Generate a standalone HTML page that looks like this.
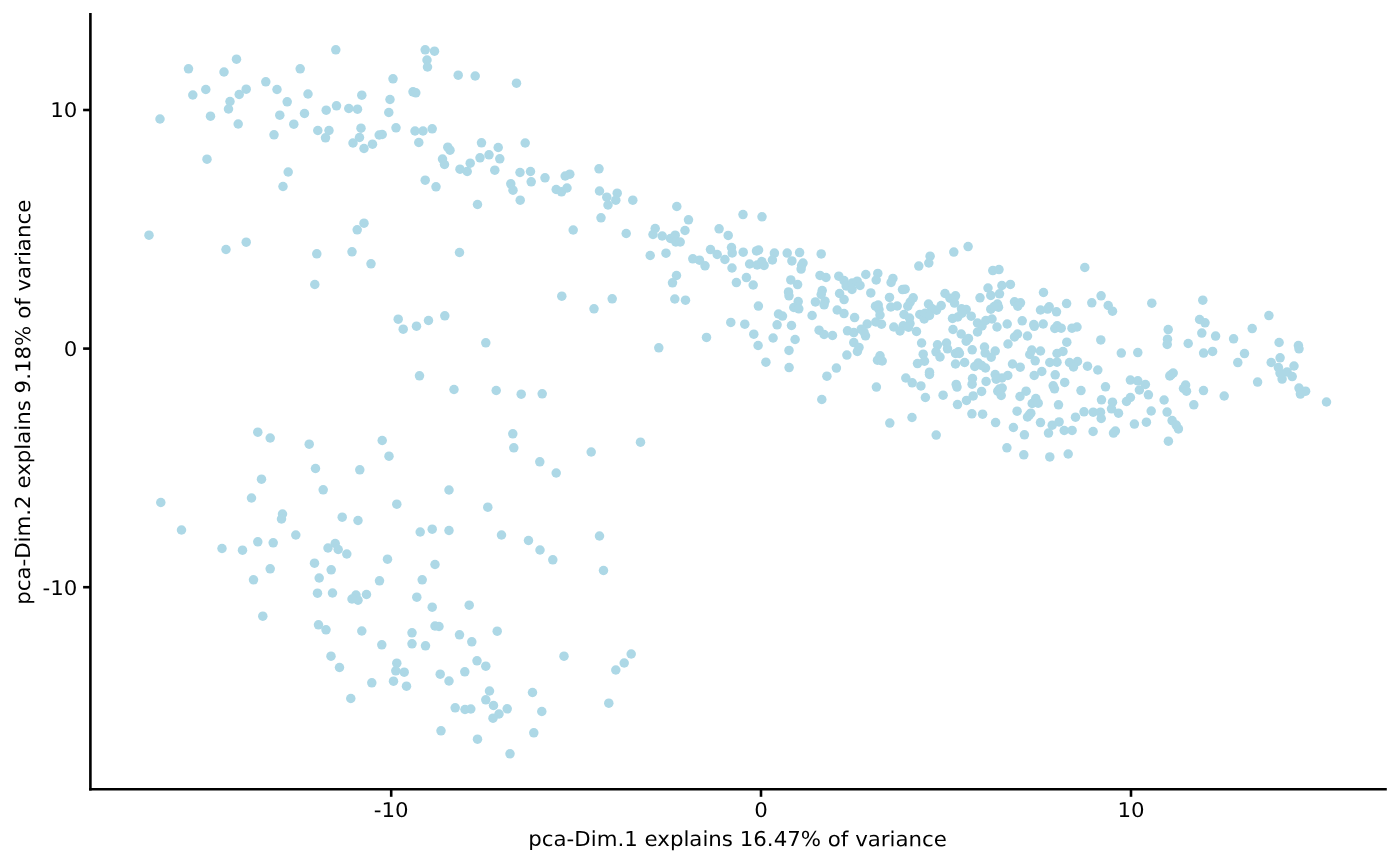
<!DOCTYPE html>
<html><head><meta charset="utf-8"><title>PCA plot</title>
<style>html,body{margin:0;padding:0;background:#fff}svg{display:block}</style></head>
<body><svg width="1400" height="866" viewBox="0 0 1400 866">
<rect width="1400" height="866" fill="#fff"/>
<g fill="#ADD8E6"><circle cx="160.0" cy="119.0" r="4.75"/><circle cx="188.5" cy="68.8" r="4.75"/><circle cx="192.8" cy="95.0" r="4.75"/><circle cx="205.8" cy="89.5" r="4.75"/><circle cx="210.5" cy="116.2" r="4.75"/><circle cx="207.0" cy="159.2" r="4.75"/><circle cx="224.0" cy="72.0" r="4.75"/><circle cx="236.5" cy="59.2" r="4.75"/><circle cx="230.0" cy="101.5" r="4.75"/><circle cx="228.5" cy="109.0" r="4.75"/><circle cx="239.2" cy="94.5" r="4.75"/><circle cx="246.2" cy="89.2" r="4.75"/><circle cx="238.2" cy="124.0" r="4.75"/><circle cx="265.8" cy="81.8" r="4.75"/><circle cx="277.0" cy="89.5" r="4.75"/><circle cx="274.0" cy="134.8" r="4.75"/><circle cx="279.8" cy="115.2" r="4.75"/><circle cx="287.2" cy="101.8" r="4.75"/><circle cx="293.8" cy="124.2" r="4.75"/><circle cx="288.2" cy="172.0" r="4.75"/><circle cx="283.0" cy="186.5" r="4.75"/><circle cx="300.2" cy="68.8" r="4.75"/><circle cx="308.0" cy="94.0" r="4.75"/><circle cx="304.5" cy="113.5" r="4.75"/><circle cx="317.8" cy="130.5" r="4.75"/><circle cx="326.2" cy="110.2" r="4.75"/><circle cx="329.0" cy="130.5" r="4.75"/><circle cx="325.5" cy="137.8" r="4.75"/><circle cx="335.8" cy="49.8" r="4.75"/><circle cx="336.5" cy="105.8" r="4.75"/><circle cx="348.8" cy="108.5" r="4.75"/><circle cx="357.5" cy="109.2" r="4.75"/><circle cx="361.8" cy="95.2" r="4.75"/><circle cx="361.0" cy="128.2" r="4.75"/><circle cx="359.5" cy="137.5" r="4.75"/><circle cx="353.0" cy="143.0" r="4.75"/><circle cx="364.0" cy="148.5" r="4.75"/><circle cx="372.5" cy="144.2" r="4.75"/><circle cx="379.2" cy="135.0" r="4.75"/><circle cx="382.2" cy="134.5" r="4.75"/><circle cx="388.8" cy="112.5" r="4.75"/><circle cx="390.0" cy="99.5" r="4.75"/><circle cx="393.0" cy="78.8" r="4.75"/><circle cx="396.0" cy="127.8" r="4.75"/><circle cx="413.0" cy="91.8" r="4.75"/><circle cx="415.8" cy="92.8" r="4.75"/><circle cx="415.0" cy="131.0" r="4.75"/><circle cx="423.0" cy="131.0" r="4.75"/><circle cx="432.2" cy="128.8" r="4.75"/><circle cx="418.8" cy="142.5" r="4.75"/><circle cx="425.2" cy="49.8" r="4.75"/><circle cx="434.5" cy="51.2" r="4.75"/><circle cx="427.0" cy="60.0" r="4.75"/><circle cx="427.5" cy="67.0" r="4.75"/><circle cx="458.2" cy="75.2" r="4.75"/><circle cx="475.2" cy="76.0" r="4.75"/><circle cx="516.5" cy="83.2" r="4.75"/><circle cx="447.8" cy="147.2" r="4.75"/><circle cx="450.0" cy="150.2" r="4.75"/><circle cx="442.5" cy="159.0" r="4.75"/><circle cx="444.5" cy="164.5" r="4.75"/><circle cx="460.0" cy="169.2" r="4.75"/><circle cx="467.2" cy="171.5" r="4.75"/><circle cx="470.2" cy="163.2" r="4.75"/><circle cx="480.0" cy="157.8" r="4.75"/><circle cx="481.5" cy="142.8" r="4.75"/><circle cx="489.0" cy="154.8" r="4.75"/><circle cx="498.2" cy="147.5" r="4.75"/><circle cx="499.8" cy="158.8" r="4.75"/><circle cx="494.8" cy="170.2" r="4.75"/><circle cx="525.2" cy="143.0" r="4.75"/><circle cx="520.0" cy="172.5" r="4.75"/><circle cx="530.5" cy="171.5" r="4.75"/><circle cx="531.2" cy="181.8" r="4.75"/><circle cx="545.0" cy="177.8" r="4.75"/><circle cx="510.8" cy="183.8" r="4.75"/><circle cx="513.0" cy="190.2" r="4.75"/><circle cx="520.2" cy="200.2" r="4.75"/><circle cx="477.5" cy="204.5" r="4.75"/><circle cx="425.2" cy="180.2" r="4.75"/><circle cx="436.0" cy="186.8" r="4.75"/><circle cx="565.2" cy="176.0" r="4.75"/><circle cx="569.8" cy="174.2" r="4.75"/><circle cx="556.2" cy="189.5" r="4.75"/><circle cx="561.5" cy="191.8" r="4.75"/><circle cx="567.0" cy="188.0" r="4.75"/><circle cx="599.0" cy="168.8" r="4.75"/><circle cx="599.5" cy="191.0" r="4.75"/><circle cx="606.8" cy="197.2" r="4.75"/><circle cx="617.2" cy="193.2" r="4.75"/><circle cx="615.8" cy="200.2" r="4.75"/><circle cx="608.0" cy="205.0" r="4.75"/><circle cx="632.8" cy="200.2" r="4.75"/><circle cx="676.8" cy="206.5" r="4.75"/><circle cx="149.0" cy="235.2" r="4.75"/><circle cx="226.0" cy="249.5" r="4.75"/><circle cx="246.2" cy="242.2" r="4.75"/><circle cx="316.8" cy="253.8" r="4.75"/><circle cx="314.8" cy="284.5" r="4.75"/><circle cx="364.0" cy="223.2" r="4.75"/><circle cx="357.2" cy="229.8" r="4.75"/><circle cx="352.0" cy="251.8" r="4.75"/><circle cx="371.0" cy="263.8" r="4.75"/><circle cx="459.5" cy="252.5" r="4.75"/><circle cx="398.2" cy="319.2" r="4.75"/><circle cx="403.2" cy="329.2" r="4.75"/><circle cx="416.5" cy="326.2" r="4.75"/><circle cx="428.5" cy="320.5" r="4.75"/><circle cx="444.8" cy="315.8" r="4.75"/><circle cx="485.8" cy="342.8" r="4.75"/><circle cx="419.5" cy="375.8" r="4.75"/><circle cx="454.0" cy="389.5" r="4.75"/><circle cx="496.2" cy="390.5" r="4.75"/><circle cx="521.2" cy="394.2" r="4.75"/><circle cx="542.2" cy="393.8" r="4.75"/><circle cx="561.8" cy="296.2" r="4.75"/><circle cx="594.0" cy="308.8" r="4.75"/><circle cx="612.2" cy="298.8" r="4.75"/><circle cx="573.2" cy="230.0" r="4.75"/><circle cx="601.0" cy="217.8" r="4.75"/><circle cx="626.2" cy="233.5" r="4.75"/><circle cx="655.2" cy="228.5" r="4.75"/><circle cx="653.0" cy="234.5" r="4.75"/><circle cx="662.2" cy="236.0" r="4.75"/><circle cx="670.5" cy="238.5" r="4.75"/><circle cx="675.2" cy="235.2" r="4.75"/><circle cx="675.8" cy="242.0" r="4.75"/><circle cx="680.2" cy="242.0" r="4.75"/><circle cx="685.0" cy="230.5" r="4.75"/><circle cx="688.5" cy="219.8" r="4.75"/><circle cx="650.2" cy="255.5" r="4.75"/><circle cx="666.0" cy="253.2" r="4.75"/><circle cx="692.8" cy="258.8" r="4.75"/><circle cx="699.5" cy="260.2" r="4.75"/><circle cx="676.5" cy="275.5" r="4.75"/><circle cx="672.5" cy="282.8" r="4.75"/><circle cx="674.8" cy="299.0" r="4.75"/><circle cx="685.5" cy="300.2" r="4.75"/><circle cx="658.8" cy="347.8" r="4.75"/><circle cx="743.0" cy="214.6" r="4.75"/><circle cx="762.0" cy="216.8" r="4.75"/><circle cx="719.1" cy="228.8" r="4.75"/><circle cx="728.2" cy="235.4" r="4.75"/><circle cx="710.5" cy="249.6" r="4.75"/><circle cx="717.2" cy="254.5" r="4.75"/><circle cx="724.9" cy="259.5" r="4.75"/><circle cx="731.5" cy="247.6" r="4.75"/><circle cx="732.2" cy="252.9" r="4.75"/><circle cx="743.2" cy="252.2" r="4.75"/><circle cx="705.0" cy="265.8" r="4.75"/><circle cx="732.0" cy="268.0" r="4.75"/><circle cx="756.5" cy="250.9" r="4.75"/><circle cx="758.6" cy="250.0" r="4.75"/><circle cx="749.6" cy="264.0" r="4.75"/><circle cx="757.2" cy="265.0" r="4.75"/><circle cx="761.8" cy="261.6" r="4.75"/><circle cx="764.1" cy="265.4" r="4.75"/><circle cx="774.4" cy="253.1" r="4.75"/><circle cx="772.4" cy="260.0" r="4.75"/><circle cx="787.2" cy="253.1" r="4.75"/><circle cx="799.6" cy="252.6" r="4.75"/><circle cx="791.9" cy="260.9" r="4.75"/><circle cx="803.0" cy="263.0" r="4.75"/><circle cx="801.6" cy="265.6" r="4.75"/><circle cx="801.1" cy="269.1" r="4.75"/><circle cx="821.2" cy="253.9" r="4.75"/><circle cx="746.4" cy="277.6" r="4.75"/><circle cx="736.4" cy="282.6" r="4.75"/><circle cx="753.2" cy="285.0" r="4.75"/><circle cx="790.8" cy="279.9" r="4.75"/><circle cx="797.6" cy="284.6" r="4.75"/><circle cx="788.5" cy="291.9" r="4.75"/><circle cx="789.0" cy="295.8" r="4.75"/><circle cx="758.4" cy="306.1" r="4.75"/><circle cx="820.0" cy="275.4" r="4.75"/><circle cx="826.0" cy="277.5" r="4.75"/><circle cx="838.8" cy="276.2" r="4.75"/><circle cx="844.0" cy="280.6" r="4.75"/><circle cx="846.2" cy="286.0" r="4.75"/><circle cx="852.2" cy="283.1" r="4.75"/><circle cx="852.0" cy="289.4" r="4.75"/><circle cx="857.2" cy="281.2" r="4.75"/><circle cx="860.0" cy="285.4" r="4.75"/><circle cx="865.8" cy="274.5" r="4.75"/><circle cx="870.8" cy="292.9" r="4.75"/><circle cx="839.6" cy="293.5" r="4.75"/><circle cx="844.1" cy="299.6" r="4.75"/><circle cx="822.2" cy="290.5" r="4.75"/><circle cx="821.2" cy="294.5" r="4.75"/><circle cx="815.4" cy="301.9" r="4.75"/><circle cx="825.0" cy="301.2" r="4.75"/><circle cx="824.1" cy="304.8" r="4.75"/><circle cx="798.2" cy="301.6" r="4.75"/><circle cx="793.8" cy="307.5" r="4.75"/><circle cx="798.8" cy="308.8" r="4.75"/><circle cx="837.2" cy="310.0" r="4.75"/><circle cx="968.1" cy="246.6" r="4.75"/><circle cx="953.8" cy="252.1" r="4.75"/><circle cx="930.1" cy="256.2" r="4.75"/><circle cx="928.8" cy="263.0" r="4.75"/><circle cx="918.8" cy="266.1" r="4.75"/><circle cx="877.8" cy="273.4" r="4.75"/><circle cx="876.2" cy="280.0" r="4.75"/><circle cx="892.9" cy="278.4" r="4.75"/><circle cx="891.1" cy="282.5" r="4.75"/><circle cx="902.5" cy="289.6" r="4.75"/><circle cx="905.1" cy="289.2" r="4.75"/><circle cx="992.8" cy="270.6" r="4.75"/><circle cx="999.0" cy="269.6" r="4.75"/><circle cx="988.0" cy="288.0" r="4.75"/><circle cx="1001.9" cy="285.5" r="4.75"/><circle cx="1010.4" cy="284.4" r="4.75"/><circle cx="889.5" cy="297.4" r="4.75"/><circle cx="890.8" cy="307.0" r="4.75"/><circle cx="897.2" cy="306.0" r="4.75"/><circle cx="913.2" cy="297.8" r="4.75"/><circle cx="910.2" cy="302.0" r="4.75"/><circle cx="907.8" cy="306.2" r="4.75"/><circle cx="878.2" cy="305.0" r="4.75"/><circle cx="875.5" cy="306.2" r="4.75"/><circle cx="879.0" cy="309.5" r="4.75"/><circle cx="880.0" cy="315.0" r="4.75"/><circle cx="875.8" cy="322.0" r="4.75"/><circle cx="881.5" cy="324.2" r="4.75"/><circle cx="867.2" cy="324.0" r="4.75"/><circle cx="904.0" cy="314.5" r="4.75"/><circle cx="909.5" cy="318.0" r="4.75"/><circle cx="910.0" cy="323.5" r="4.75"/><circle cx="893.8" cy="327.0" r="4.75"/><circle cx="903.2" cy="325.8" r="4.75"/><circle cx="900.0" cy="331.0" r="4.75"/><circle cx="908.5" cy="327.2" r="4.75"/><circle cx="916.5" cy="331.5" r="4.75"/><circle cx="928.5" cy="304.0" r="4.75"/><circle cx="941.2" cy="305.6" r="4.75"/><circle cx="936.5" cy="310.2" r="4.75"/><circle cx="931.8" cy="308.5" r="4.75"/><circle cx="919.8" cy="314.5" r="4.75"/><circle cx="924.2" cy="319.0" r="4.75"/><circle cx="925.2" cy="313.2" r="4.75"/><circle cx="929.5" cy="315.5" r="4.75"/><circle cx="945.0" cy="293.5" r="4.75"/><circle cx="955.5" cy="295.8" r="4.75"/><circle cx="950.0" cy="298.2" r="4.75"/><circle cx="954.5" cy="303.1" r="4.75"/><circle cx="961.5" cy="308.8" r="4.75"/><circle cx="966.2" cy="309.5" r="4.75"/><circle cx="952.5" cy="318.5" r="4.75"/><circle cx="957.8" cy="317.0" r="4.75"/><circle cx="962.0" cy="313.2" r="4.75"/><circle cx="971.2" cy="316.2" r="4.75"/><circle cx="980.0" cy="297.8" r="4.75"/><circle cx="953.0" cy="329.5" r="4.75"/><circle cx="961.2" cy="334.0" r="4.75"/><circle cx="977.5" cy="323.0" r="4.75"/><circle cx="982.0" cy="326.0" r="4.75"/><circle cx="977.5" cy="332.0" r="4.75"/><circle cx="990.8" cy="295.4" r="4.75"/><circle cx="999.5" cy="293.8" r="4.75"/><circle cx="997.5" cy="304.0" r="4.75"/><circle cx="998.5" cy="307.2" r="4.75"/><circle cx="990.8" cy="309.2" r="4.75"/><circle cx="994.2" cy="306.5" r="4.75"/><circle cx="1014.5" cy="301.8" r="4.75"/><circle cx="1020.5" cy="302.8" r="4.75"/><circle cx="1017.8" cy="306.2" r="4.75"/><circle cx="1043.5" cy="292.5" r="4.75"/><circle cx="1040.5" cy="310.0" r="4.75"/><circle cx="1022.2" cy="320.8" r="4.75"/><circle cx="1007.2" cy="324.0" r="4.75"/><circle cx="997.0" cy="327.0" r="4.75"/><circle cx="992.0" cy="319.0" r="4.75"/><circle cx="985.8" cy="320.5" r="4.75"/><circle cx="1033.8" cy="324.5" r="4.75"/><circle cx="1043.2" cy="324.0" r="4.75"/><circle cx="1049.2" cy="306.8" r="4.75"/><circle cx="1047.6" cy="309.1" r="4.75"/><circle cx="1056.5" cy="311.8" r="4.75"/><circle cx="1066.6" cy="303.6" r="4.75"/><circle cx="1091.8" cy="302.8" r="4.75"/><circle cx="1101.1" cy="295.8" r="4.75"/><circle cx="1057.2" cy="325.8" r="4.75"/><circle cx="1054.8" cy="328.5" r="4.75"/><circle cx="1061.2" cy="328.2" r="4.75"/><circle cx="1072.0" cy="328.2" r="4.75"/><circle cx="1077.0" cy="327.0" r="4.75"/><circle cx="1108.2" cy="305.5" r="4.75"/><circle cx="1112.5" cy="311.2" r="4.75"/><circle cx="1151.8" cy="303.2" r="4.75"/><circle cx="865.5" cy="335.8" r="4.75"/><circle cx="921.6" cy="343.0" r="4.75"/><circle cx="880.0" cy="355.8" r="4.75"/><circle cx="877.5" cy="360.2" r="4.75"/><circle cx="882.2" cy="361.0" r="4.75"/><circle cx="923.2" cy="354.2" r="4.75"/><circle cx="917.5" cy="363.6" r="4.75"/><circle cx="924.5" cy="361.2" r="4.75"/><circle cx="929.5" cy="372.2" r="4.75"/><circle cx="937.5" cy="344.8" r="4.75"/><circle cx="946.5" cy="343.0" r="4.75"/><circle cx="947.5" cy="348.8" r="4.75"/><circle cx="936.0" cy="351.8" r="4.75"/><circle cx="940.0" cy="357.0" r="4.75"/><circle cx="958.5" cy="351.8" r="4.75"/><circle cx="955.5" cy="353.4" r="4.75"/><circle cx="959.4" cy="353.4" r="4.75"/><circle cx="968.5" cy="338.5" r="4.75"/><circle cx="966.2" cy="341.2" r="4.75"/><circle cx="972.2" cy="349.8" r="4.75"/><circle cx="955.5" cy="364.0" r="4.75"/><circle cx="964.6" cy="362.5" r="4.75"/><circle cx="978.2" cy="363.0" r="4.75"/><circle cx="974.8" cy="366.5" r="4.75"/><circle cx="984.5" cy="347.0" r="4.75"/><circle cx="985.2" cy="353.0" r="4.75"/><circle cx="995.2" cy="351.0" r="4.75"/><circle cx="991.2" cy="357.2" r="4.75"/><circle cx="985.5" cy="368.0" r="4.75"/><circle cx="1008.0" cy="344.0" r="4.75"/><circle cx="1017.5" cy="334.0" r="4.75"/><circle cx="1014.5" cy="337.0" r="4.75"/><circle cx="1027.5" cy="336.0" r="4.75"/><circle cx="1031.8" cy="350.0" r="4.75"/><circle cx="1029.8" cy="354.5" r="4.75"/><circle cx="1040.5" cy="351.0" r="4.75"/><circle cx="1035.2" cy="360.8" r="4.75"/><circle cx="1012.5" cy="364.0" r="4.75"/><circle cx="1020.2" cy="367.2" r="4.75"/><circle cx="995.2" cy="374.5" r="4.75"/><circle cx="1007.8" cy="375.5" r="4.75"/><circle cx="1041.8" cy="371.5" r="4.75"/><circle cx="1034.2" cy="375.5" r="4.75"/><circle cx="1066.8" cy="342.2" r="4.75"/><circle cx="1100.8" cy="339.9" r="4.75"/><circle cx="1057.0" cy="353.5" r="4.75"/><circle cx="1063.0" cy="351.5" r="4.75"/><circle cx="1049.8" cy="362.5" r="4.75"/><circle cx="1057.0" cy="362.2" r="4.75"/><circle cx="1069.5" cy="362.5" r="4.75"/><circle cx="1077.5" cy="361.5" r="4.75"/><circle cx="1073.5" cy="367.0" r="4.75"/><circle cx="1087.5" cy="366.2" r="4.75"/><circle cx="1097.8" cy="370.0" r="4.75"/><circle cx="1055.2" cy="374.8" r="4.75"/><circle cx="1121.3" cy="353.1" r="4.75"/><circle cx="1137.8" cy="352.6" r="4.75"/><circle cx="876.4" cy="387.1" r="4.75"/><circle cx="905.8" cy="378.0" r="4.75"/><circle cx="912.2" cy="382.8" r="4.75"/><circle cx="920.9" cy="385.9" r="4.75"/><circle cx="925.4" cy="397.5" r="4.75"/><circle cx="929.5" cy="374.5" r="4.75"/><circle cx="912.0" cy="417.5" r="4.75"/><circle cx="943.1" cy="395.2" r="4.75"/><circle cx="956.2" cy="384.4" r="4.75"/><circle cx="957.0" cy="387.1" r="4.75"/><circle cx="972.5" cy="378.5" r="4.75"/><circle cx="972.1" cy="384.2" r="4.75"/><circle cx="986.1" cy="381.4" r="4.75"/><circle cx="981.6" cy="391.4" r="4.75"/><circle cx="973.2" cy="395.9" r="4.75"/><circle cx="966.5" cy="400.4" r="4.75"/><circle cx="957.5" cy="404.6" r="4.75"/><circle cx="971.9" cy="413.8" r="4.75"/><circle cx="982.6" cy="414.2" r="4.75"/><circle cx="996.2" cy="379.2" r="4.75"/><circle cx="1002.0" cy="378.0" r="4.75"/><circle cx="1002.2" cy="388.0" r="4.75"/><circle cx="997.8" cy="391.2" r="4.75"/><circle cx="1001.2" cy="395.5" r="4.75"/><circle cx="1026.1" cy="391.2" r="4.75"/><circle cx="1020.0" cy="396.5" r="4.75"/><circle cx="1035.8" cy="398.5" r="4.75"/><circle cx="1032.2" cy="403.5" r="4.75"/><circle cx="1038.2" cy="403.2" r="4.75"/><circle cx="1053.2" cy="385.8" r="4.75"/><circle cx="1054.5" cy="388.8" r="4.75"/><circle cx="1017.1" cy="411.2" r="4.75"/><circle cx="1030.8" cy="413.2" r="4.75"/><circle cx="1027.5" cy="417.0" r="4.75"/><circle cx="1064.7" cy="382.4" r="4.75"/><circle cx="1081.0" cy="390.6" r="4.75"/><circle cx="1105.5" cy="386.8" r="4.75"/><circle cx="1101.5" cy="399.8" r="4.75"/><circle cx="1058.5" cy="404.8" r="4.75"/><circle cx="1084.0" cy="411.8" r="4.75"/><circle cx="1093.2" cy="412.2" r="4.75"/><circle cx="1100.5" cy="412.2" r="4.75"/><circle cx="1075.5" cy="417.2" r="4.75"/><circle cx="1101.2" cy="418.5" r="4.75"/><circle cx="1112.5" cy="402.2" r="4.75"/><circle cx="1111.5" cy="408.8" r="4.75"/><circle cx="706.5" cy="337.4" r="4.75"/><circle cx="730.8" cy="322.4" r="4.75"/><circle cx="744.8" cy="324.2" r="4.75"/><circle cx="753.8" cy="334.2" r="4.75"/><circle cx="758.1" cy="345.5" r="4.75"/><circle cx="765.9" cy="362.2" r="4.75"/><circle cx="773.1" cy="338.0" r="4.75"/><circle cx="777.1" cy="324.8" r="4.75"/><circle cx="778.5" cy="314.0" r="4.75"/><circle cx="782.5" cy="316.1" r="4.75"/><circle cx="791.5" cy="325.5" r="4.75"/><circle cx="795.1" cy="339.5" r="4.75"/><circle cx="789.0" cy="350.4" r="4.75"/><circle cx="789.1" cy="367.6" r="4.75"/><circle cx="812.1" cy="315.5" r="4.75"/><circle cx="819.1" cy="330.2" r="4.75"/><circle cx="824.1" cy="334.5" r="4.75"/><circle cx="832.5" cy="335.5" r="4.75"/><circle cx="844.0" cy="313.6" r="4.75"/><circle cx="854.6" cy="317.6" r="4.75"/><circle cx="847.5" cy="330.8" r="4.75"/><circle cx="853.8" cy="332.6" r="4.75"/><circle cx="861.2" cy="329.2" r="4.75"/><circle cx="864.0" cy="332.0" r="4.75"/><circle cx="853.8" cy="342.6" r="4.75"/><circle cx="859.0" cy="347.4" r="4.75"/><circle cx="857.4" cy="351.5" r="4.75"/><circle cx="846.9" cy="355.1" r="4.75"/><circle cx="836.4" cy="368.1" r="4.75"/><circle cx="826.9" cy="376.2" r="4.75"/><circle cx="821.8" cy="399.5" r="4.75"/><circle cx="1084.8" cy="267.5" r="4.75"/><circle cx="1202.8" cy="300.2" r="4.75"/><circle cx="1199.6" cy="319.5" r="4.75"/><circle cx="1205.0" cy="322.8" r="4.75"/><circle cx="1168.2" cy="329.6" r="4.75"/><circle cx="1167.5" cy="339.2" r="4.75"/><circle cx="1167.2" cy="344.4" r="4.75"/><circle cx="1188.2" cy="343.5" r="4.75"/><circle cx="1201.8" cy="333.1" r="4.75"/><circle cx="1215.6" cy="336.1" r="4.75"/><circle cx="1233.6" cy="338.8" r="4.75"/><circle cx="1252.2" cy="328.6" r="4.75"/><circle cx="1268.9" cy="315.6" r="4.75"/><circle cx="1203.6" cy="353.1" r="4.75"/><circle cx="1212.6" cy="351.4" r="4.75"/><circle cx="1244.5" cy="353.6" r="4.75"/><circle cx="1237.8" cy="362.6" r="4.75"/><circle cx="1279.1" cy="342.5" r="4.75"/><circle cx="1298.4" cy="345.5" r="4.75"/><circle cx="1299.0" cy="348.8" r="4.75"/><circle cx="1280.1" cy="357.8" r="4.75"/><circle cx="1271.2" cy="362.5" r="4.75"/><circle cx="1294.0" cy="366.0" r="4.75"/><circle cx="1278.4" cy="367.5" r="4.75"/><circle cx="1280.0" cy="373.1" r="4.75"/><circle cx="1287.1" cy="371.9" r="4.75"/><circle cx="1292.2" cy="376.6" r="4.75"/><circle cx="1282.1" cy="379.1" r="4.75"/><circle cx="1257.6" cy="382.1" r="4.75"/><circle cx="1173.2" cy="373.0" r="4.75"/><circle cx="1169.8" cy="375.9" r="4.75"/><circle cx="1185.6" cy="385.0" r="4.75"/><circle cx="1183.5" cy="388.5" r="4.75"/><circle cx="1203.5" cy="390.6" r="4.75"/><circle cx="1299.0" cy="388.1" r="4.75"/><circle cx="1305.6" cy="391.2" r="4.75"/><circle cx="1130.4" cy="380.1" r="4.75"/><circle cx="1137.8" cy="380.8" r="4.75"/><circle cx="1145.4" cy="384.5" r="4.75"/><circle cx="1139.4" cy="390.0" r="4.75"/><circle cx="1148.4" cy="394.8" r="4.75"/><circle cx="1130.4" cy="397.5" r="4.75"/><circle cx="1126.5" cy="401.5" r="4.75"/><circle cx="1118.5" cy="413.2" r="4.75"/><circle cx="1164.1" cy="400.0" r="4.75"/><circle cx="1151.2" cy="411.0" r="4.75"/><circle cx="1167.1" cy="412.1" r="4.75"/><circle cx="1134.4" cy="424.1" r="4.75"/><circle cx="1146.4" cy="422.2" r="4.75"/><circle cx="1172.1" cy="420.6" r="4.75"/><circle cx="1176.2" cy="425.1" r="4.75"/><circle cx="1178.4" cy="428.9" r="4.75"/><circle cx="1168.4" cy="441.2" r="4.75"/><circle cx="1115.4" cy="431.0" r="4.75"/><circle cx="1113.5" cy="433.1" r="4.75"/><circle cx="1186.5" cy="391.2" r="4.75"/><circle cx="1193.8" cy="404.8" r="4.75"/><circle cx="1224.2" cy="396.0" r="4.75"/><circle cx="1300.4" cy="394.1" r="4.75"/><circle cx="1326.5" cy="402.0" r="4.75"/><circle cx="889.8" cy="423.1" r="4.75"/><circle cx="936.2" cy="435.1" r="4.75"/><circle cx="995.6" cy="422.6" r="4.75"/><circle cx="1013.4" cy="427.5" r="4.75"/><circle cx="1024.4" cy="434.8" r="4.75"/><circle cx="1006.9" cy="447.8" r="4.75"/><circle cx="1023.8" cy="454.8" r="4.75"/><circle cx="1040.5" cy="422.6" r="4.75"/><circle cx="1052.2" cy="425.2" r="4.75"/><circle cx="1059.1" cy="421.9" r="4.75"/><circle cx="1048.5" cy="433.1" r="4.75"/><circle cx="1064.2" cy="430.5" r="4.75"/><circle cx="1072.1" cy="430.4" r="4.75"/><circle cx="1093.1" cy="431.5" r="4.75"/><circle cx="1049.8" cy="456.9" r="4.75"/><circle cx="1068.2" cy="454.0" r="4.75"/><circle cx="160.8" cy="502.5" r="4.75"/><circle cx="181.5" cy="530.0" r="4.75"/><circle cx="222.0" cy="548.5" r="4.75"/><circle cx="242.5" cy="550.2" r="4.75"/><circle cx="257.8" cy="432.2" r="4.75"/><circle cx="270.2" cy="438.0" r="4.75"/><circle cx="261.5" cy="479.2" r="4.75"/><circle cx="251.5" cy="498.0" r="4.75"/><circle cx="257.8" cy="541.8" r="4.75"/><circle cx="273.2" cy="542.8" r="4.75"/><circle cx="282.5" cy="514.0" r="4.75"/><circle cx="281.5" cy="519.0" r="4.75"/><circle cx="295.8" cy="535.0" r="4.75"/><circle cx="309.2" cy="444.2" r="4.75"/><circle cx="315.5" cy="468.5" r="4.75"/><circle cx="323.2" cy="489.8" r="4.75"/><circle cx="342.2" cy="517.2" r="4.75"/><circle cx="328.0" cy="548.0" r="4.75"/><circle cx="335.2" cy="543.5" r="4.75"/><circle cx="338.2" cy="549.5" r="4.75"/><circle cx="346.8" cy="554.0" r="4.75"/><circle cx="314.5" cy="563.2" r="4.75"/><circle cx="331.2" cy="569.8" r="4.75"/><circle cx="270.2" cy="568.8" r="4.75"/><circle cx="253.5" cy="579.8" r="4.75"/><circle cx="319.2" cy="578.0" r="4.75"/><circle cx="317.5" cy="593.2" r="4.75"/><circle cx="332.5" cy="593.0" r="4.75"/><circle cx="262.8" cy="616.2" r="4.75"/><circle cx="318.5" cy="624.8" r="4.75"/><circle cx="326.0" cy="629.8" r="4.75"/><circle cx="382.2" cy="440.5" r="4.75"/><circle cx="389.0" cy="456.2" r="4.75"/><circle cx="359.8" cy="469.8" r="4.75"/><circle cx="396.8" cy="504.2" r="4.75"/><circle cx="358.0" cy="520.5" r="4.75"/><circle cx="449.0" cy="490.0" r="4.75"/><circle cx="487.8" cy="507.2" r="4.75"/><circle cx="420.2" cy="532.0" r="4.75"/><circle cx="432.2" cy="529.2" r="4.75"/><circle cx="449.0" cy="530.5" r="4.75"/><circle cx="387.5" cy="559.2" r="4.75"/><circle cx="435.0" cy="564.5" r="4.75"/><circle cx="379.5" cy="580.8" r="4.75"/><circle cx="422.2" cy="579.8" r="4.75"/><circle cx="366.5" cy="594.5" r="4.75"/><circle cx="356.0" cy="595.0" r="4.75"/><circle cx="358.0" cy="600.2" r="4.75"/><circle cx="352.0" cy="599.0" r="4.75"/><circle cx="416.8" cy="597.2" r="4.75"/><circle cx="432.2" cy="607.2" r="4.75"/><circle cx="469.2" cy="605.2" r="4.75"/><circle cx="361.8" cy="631.0" r="4.75"/><circle cx="412.0" cy="632.8" r="4.75"/><circle cx="435.0" cy="626.0" r="4.75"/><circle cx="439.0" cy="626.5" r="4.75"/><circle cx="459.5" cy="634.8" r="4.75"/><circle cx="497.2" cy="631.2" r="4.75"/><circle cx="512.8" cy="433.8" r="4.75"/><circle cx="513.8" cy="447.8" r="4.75"/><circle cx="539.8" cy="461.8" r="4.75"/><circle cx="556.2" cy="473.0" r="4.75"/><circle cx="591.2" cy="452.0" r="4.75"/><circle cx="640.5" cy="442.2" r="4.75"/><circle cx="501.5" cy="535.0" r="4.75"/><circle cx="528.5" cy="540.5" r="4.75"/><circle cx="540.0" cy="550.0" r="4.75"/><circle cx="552.8" cy="559.8" r="4.75"/><circle cx="599.5" cy="536.0" r="4.75"/><circle cx="603.5" cy="570.5" r="4.75"/><circle cx="331.0" cy="656.2" r="4.75"/><circle cx="339.5" cy="667.5" r="4.75"/><circle cx="381.8" cy="644.8" r="4.75"/><circle cx="412.0" cy="643.8" r="4.75"/><circle cx="425.5" cy="645.8" r="4.75"/><circle cx="471.8" cy="641.8" r="4.75"/><circle cx="396.8" cy="663.2" r="4.75"/><circle cx="395.8" cy="670.8" r="4.75"/><circle cx="404.2" cy="672.2" r="4.75"/><circle cx="393.5" cy="681.2" r="4.75"/><circle cx="406.5" cy="686.2" r="4.75"/><circle cx="371.8" cy="682.8" r="4.75"/><circle cx="350.8" cy="698.5" r="4.75"/><circle cx="440.2" cy="674.2" r="4.75"/><circle cx="449.0" cy="681.0" r="4.75"/><circle cx="464.8" cy="671.8" r="4.75"/><circle cx="477.0" cy="660.8" r="4.75"/><circle cx="485.8" cy="666.2" r="4.75"/><circle cx="489.5" cy="691.0" r="4.75"/><circle cx="485.8" cy="699.8" r="4.75"/><circle cx="493.5" cy="705.5" r="4.75"/><circle cx="499.0" cy="714.0" r="4.75"/><circle cx="493.0" cy="718.2" r="4.75"/><circle cx="507.2" cy="708.8" r="4.75"/><circle cx="455.2" cy="707.8" r="4.75"/><circle cx="465.0" cy="709.5" r="4.75"/><circle cx="470.8" cy="709.0" r="4.75"/><circle cx="441.0" cy="730.8" r="4.75"/><circle cx="477.5" cy="739.2" r="4.75"/><circle cx="510.0" cy="753.8" r="4.75"/><circle cx="532.5" cy="692.5" r="4.75"/><circle cx="541.8" cy="711.5" r="4.75"/><circle cx="533.8" cy="732.8" r="4.75"/><circle cx="564.0" cy="656.2" r="4.75"/><circle cx="631.2" cy="654.0" r="4.75"/><circle cx="624.2" cy="663.0" r="4.75"/><circle cx="615.8" cy="670.0" r="4.75"/><circle cx="608.8" cy="703.2" r="4.75"/><circle cx="1034.3" cy="326.3" r="4.75"/><circle cx="981.6" cy="365.4" r="4.75"/><circle cx="1171.3" cy="374.6" r="4.75"/><circle cx="999.4" cy="389.0" r="4.75"/><circle cx="1029.4" cy="414.8" r="4.75"/></g>
<g stroke="#000" stroke-width="2.6" fill="none">
<path d="M90.4,13 V790.5999999999999"/><path d="M89.10000000000001,789.3 H1386.8"/>
<path d="M391.2,789.3 V796.8"/>
<path d="M761.0,789.3 V796.8"/>
<path d="M1131.0,789.3 V796.8"/>
<path d="M83.1,110.0 H90.4"/>
<path d="M83.1,348.6 H90.4"/>
<path d="M83.1,587.2 H90.4"/>
</g>
<g font-family="'DejaVu Sans','Liberation Sans',sans-serif" font-size="21.33px" fill="#000">
<text transform="translate(391.2,816.9) rotate(0.05) scale(1,0.955)" text-anchor="middle">-10</text>
<text transform="translate(761.0,816.9) rotate(0.05) scale(1,0.955)" text-anchor="middle">0</text>
<text transform="translate(1131.0,816.9) rotate(0.05) scale(1,0.955)" text-anchor="middle">10</text>
<text transform="translate(77.3,117.0) rotate(0.05) scale(1,0.955)" text-anchor="end">10</text>
<text transform="translate(77.3,356.0) rotate(0.05) scale(1,0.955)" text-anchor="end">0</text>
<text transform="translate(77.3,595.0) rotate(0.05) scale(1,0.955)" text-anchor="end">-10</text>
<text transform="translate(737.6,846.05) rotate(0.05) scale(1,0.965)" text-anchor="middle">pca-Dim.1 explains 16.47% of variance</text>
<text transform="translate(30.1,402.3) rotate(-89.95) scale(1,0.965)" text-anchor="middle">pca-Dim.2 explains 9.18% of variance</text>
</g>
</svg></body></html>
